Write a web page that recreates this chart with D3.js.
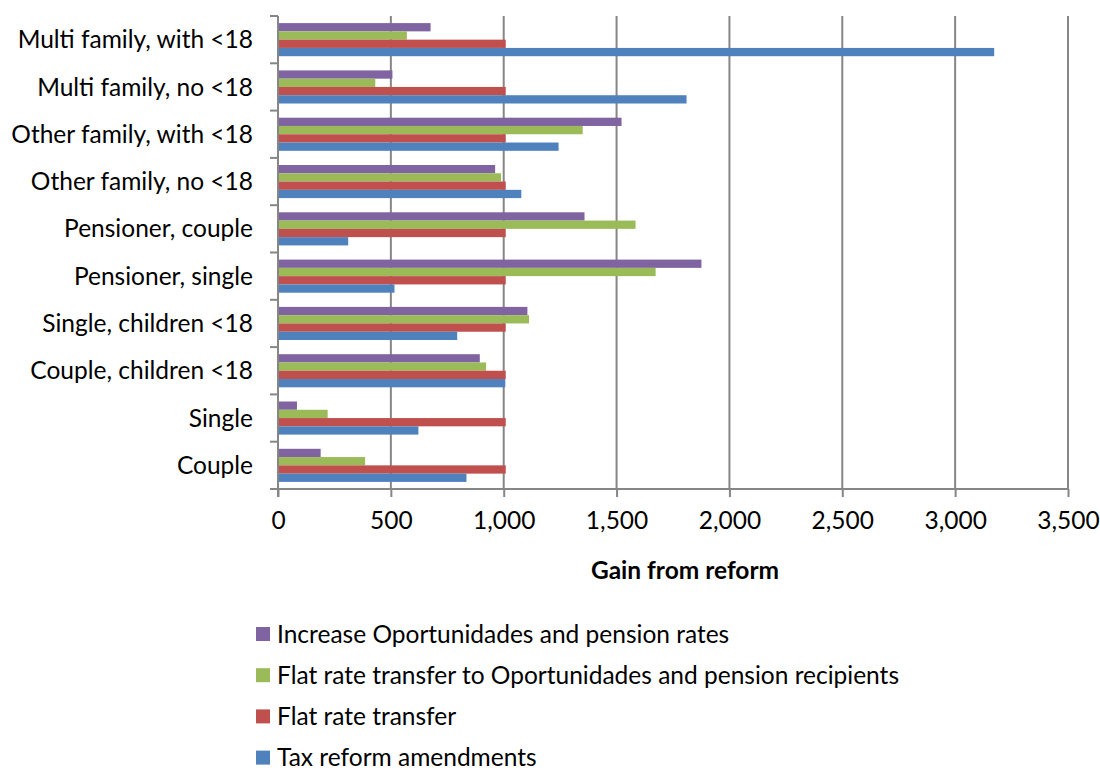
<!DOCTYPE html>
<html>
<head>
<meta charset="utf-8">
<title>Gain from reform by household type</title>
<script src="https://d3js.org/d3.v7.min.js"></script>
<style>
  body { margin: 0; background: #fff; font-family: Lato, sans-serif; }
  svg { display: block; }
  .tick text { font-size: 24.5px; fill: #000; font-family: Lato, sans-serif; }
  .grid line { stroke: #868686; stroke-width: 2; }
</style>
</head>
<body>
<div id="chart"></div>
<script>
// categories, top to bottom
var categories = ["Multi family, with <18", "Multi family, no <18", "Other family, with <18",
  "Other family, no <18", "Pensioner, couple", "Pensioner, single", "Single, children <18",
  "Couple, children <18", "Single", "Couple"];

// series, in the order drawn inside each group (top first)
var seriesNames = ["Increase Oportunidades and pension rates",
  "Flat rate transfer to Oportunidades and pension recipients",
  "Flat rate transfer", "Tax reform amendments"];

var increaseRates = [676, 507, 1522, 962, 1358, 1876, 1105, 894, 84, 189];
var flatRecipients = [571, 431, 1350, 988, 1584, 1673, 1112, 922, 220, 386];
var flatTransfer = [1009, 1009, 1009, 1009, 1009, 1009, 1009, 1009, 1009, 1009];
var taxAmendments = [3173, 1810, 1243, 1078, 311, 516, 794, 1007, 622, 835];

var xTicks = [0, 500, 1000, 1500, 2000, 2500, 3000, 3500];

var colors = ["#8064A2", "#9BBB59", "#C0504D", "#4F81BD"];
var seriesValues = [increaseRates, flatRecipients, flatTransfer, taxAmendments];

var width = 1100, height = 771;
var margin = { top: 16, right: 32, bottom: 282, left: 278 };
var fs = "24.5px";

var svg = d3.select("#chart").append("svg").attr("width", width).attr("height", height);

var x = d3.scaleLinear().domain([0, 3500]).range([margin.left, width - margin.right]);
var y = d3.scaleBand().domain(categories)
  .range([margin.top, height - margin.bottom])
  .paddingInner(0.3).paddingOuter(0.15);
var ySub = d3.scaleBand().domain(d3.range(4)).range([0, y.bandwidth()]);

// vertical gridlines
svg.append("g").attr("class", "grid")
  .selectAll("line").data(xTicks.slice(1)).enter().append("line")
  .attr("x1", d => x(d)).attr("x2", d => x(d))
  .attr("y1", margin.top).attr("y2", height - margin.bottom);

// bars
var rows = [];
categories.forEach((c, i) => {
  seriesValues.forEach((vals, s) => rows.push({ cat: c, s: s, v: vals[i] }));
});

svg.append("g").selectAll("rect").data(rows).enter().append("rect")
  .attr("x", x(0))
  .attr("y", d => y(d.cat) + ySub(d.s))
  .attr("width", d => x(d.v) - x(0))
  .attr("height", ySub.bandwidth())
  .attr("fill", d => colors[d.s]);

// y axis
var bandEdges = d3.range(categories.length + 1).map(i => margin.top + i * y.step());
var yAxis = svg.append("g");
yAxis.append("line")
  .attr("x1", x(0)).attr("x2", x(0))
  .attr("y1", margin.top).attr("y2", height - margin.bottom + 8)
  .attr("stroke", "#868686").attr("stroke-width", 2);
yAxis.selectAll("line.tk").data(bandEdges).enter().append("line")
  .attr("class", "tk")
  .attr("x1", x(0) - 8).attr("x2", x(0))
  .attr("y1", d => d).attr("y2", d => d)
  .attr("stroke", "#868686").attr("stroke-width", 2);
yAxis.selectAll("text").data(categories).enter().append("text")
  .attr("x", x(0) - 25)
  .attr("y", d => y(d) + y.bandwidth() / 2)
  .attr("dy", "0.35em")
  .attr("text-anchor", "end")
  .style("font-size", fs)
  .text(d => d);

// x axis
var xAxis = svg.append("g")
  .attr("transform", `translate(0, ${height - margin.bottom})`)
  .call(d3.axisBottom(x).tickValues(xTicks).tickFormat(d3.format(",")).tickSize(8).tickPadding(15));
xAxis.select(".domain").attr("stroke", "#868686").attr("stroke-width", 2)
  .attr("d", `M${x(0) - 8},0H${x(3500)}`);
xAxis.selectAll(".tick line").attr("stroke", "#868686").attr("stroke-width", 2);

svg.append("text")
  .attr("x", (x(0) + x(3500)) / 2 + 12)
  .attr("y", 579)
  .attr("text-anchor", "middle")
  .style("font-size", fs)
  .style("font-weight", 700)
  .text("Gain from reform");

// legend
var legend = svg.append("g").attr("transform", "translate(256, 634)");
legend.selectAll("rect").data(seriesNames).enter().append("rect")
  .attr("x", 0).attr("y", (d, i) => i * 41.2 - 7)
  .attr("width", 14).attr("height", 14)
  .attr("fill", (d, i) => colors[i]);
legend.selectAll("text").data(seriesNames).enter().append("text")
  .attr("x", 21).attr("y", (d, i) => i * 41.2)
  .attr("dy", "0.35em")
  .style("font-size", fs)
  .text(d => d);
</script>
</body>
</html>
